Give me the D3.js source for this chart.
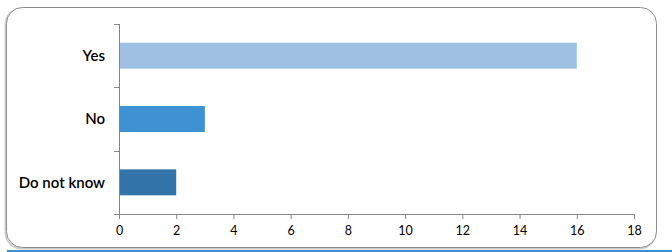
<!DOCTYPE html>
<html><head><meta charset="utf-8">
<script src="https://cdn.jsdelivr.net/npm/d3@7"></script>
<style>body{margin:0;background:#fff;}svg{display:block;}</style>
</head><body>
<svg id="c" width="672" height="252"></svg>
<script>
const categories = ["Yes", "No", "Do not know"];
const values = [16, 3, 2];
const colors = ["#9dc0e3", "#3e92d4", "#3274a9"];
const xTicks = [0, 2, 4, 6, 8, 10, 12, 14, 16, 18];

const svg = d3.select("#c");
const W = 672, H = 252;
const margin = {left: 119, right: 38, top: 24, bottom: 38};

// background frame
svg.append("rect").attr("x", 7).attr("y", 250).attr("width", 665).attr("height", 2).attr("fill", "#3d8fd1");
svg.append("rect").attr("x", 5.5).attr("y", 8.5).attr("width", 650).attr("height", 240)
  .attr("rx", 16).attr("fill", "none").attr("stroke", "#cccccc").attr("stroke-width", 2);
svg.append("rect").attr("x", 6.5).attr("y", 7.5).attr("width", 650).attr("height", 240)
  .attr("rx", 16).attr("fill", "#fff").attr("stroke", "#8c8c8c").attr("stroke-width", 1);

const x = d3.scaleLinear().domain([0, 18]).range([margin.left, W - margin.right]);
const y = d3.scaleBand().domain(categories).range([margin.top, H - margin.bottom]).paddingInner(0.59).paddingOuter(0.295);

svg.selectAll(".bar").data(categories).enter().append("rect")
  .attr("x", x(0)).attr("y", d => y(d))
  .attr("width", (d, i) => x(values[i]) - x(0))
  .attr("height", y.bandwidth())
  .attr("fill", (d, i) => colors[i]);

const axisColor = "#868686";
const xAxis = svg.append("g").attr("transform", `translate(0,${H - margin.bottom})`)
  .call(d3.axisBottom(x).tickValues(xTicks).tickSize(5).tickSizeOuter(0).tickFormat(d3.format("d")));
xAxis.select(".domain").attr("stroke", axisColor).attr("d", `M${x(0) - 5},0.5H${x(18)}`);
xAxis.selectAll(".tick line").attr("stroke", axisColor);
xAxis.selectAll("text").attr("fill", "#000").attr("font-family", "Lato, 'Open Sans', sans-serif").attr("font-size", 12.5).attr("dy", "1.0em");

// y axis line & boundary ticks
const yTop = margin.top, yBot = H - margin.bottom;
svg.append("line").attr("x1", x(0) + 0.5).attr("x2", x(0) + 0.5).attr("y1", yTop).attr("y2", yBot + 5).attr("stroke", axisColor);
const bounds = [0, 1, 2].map(i => yTop + i * (yBot - yTop) / 3);
svg.selectAll(".ytick").data(bounds).enter().append("line")
  .attr("x1", x(0) - 5).attr("x2", x(0)).attr("y1", d => Math.round(d) + 0.5).attr("y2", d => Math.round(d) + 0.5)
  .attr("stroke", axisColor);

svg.selectAll(".ylab").data(categories).enter().append("text")
  .attr("x", 105).attr("y", d => y(d) + y.bandwidth() / 2)
  .attr("dy", "0.35em").attr("text-anchor", "end")
  .attr("font-family", "Lato, 'Open Sans', sans-serif").attr("font-size", 15).attr("font-weight", 600)
  .attr("fill", "#000").text(d => d);
</script>
</body></html>
